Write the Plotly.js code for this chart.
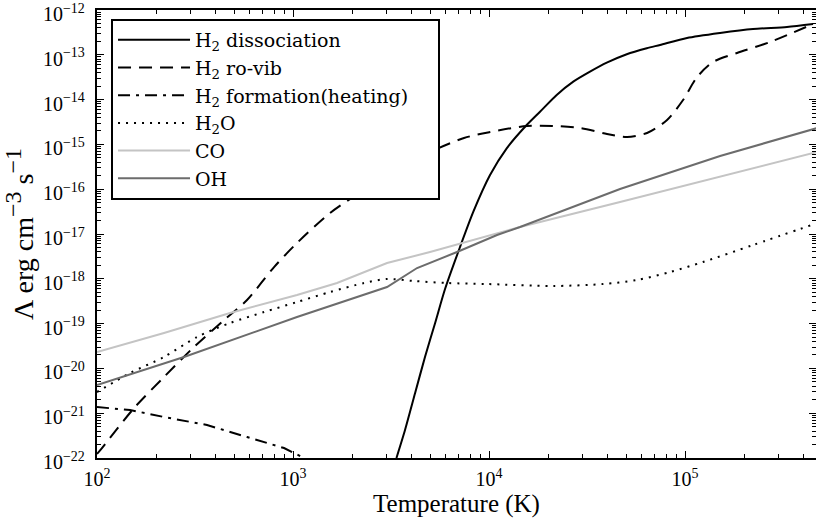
<!DOCTYPE html>
<html>
<head>
<meta charset="utf-8">
<script src="https://cdn.plot.ly/plotly-3.0.1.min.js"></script>
<style>html,body{margin:0;padding:0;background:#fff;}#chart{width:816px;height:519px;}</style>
</head>
<body>
<div id="chart"></div>
<script>
// Temperature (K) and cooling rate values
const dissocT = [3370, 3727, 4193, 4716, 5304, 5964, 7112, 8318, 10117, 12306, 15560, 18197, 22140, 26900, 32740, 39860, 50420, 63770, 74550, 102300, 150900, 222200, 331000, 449900];
const dissocL = [1e-22, 4.21e-22, 2.78e-21, 1.82e-20, 1.02e-19, 5.91e-19, 5.13e-18, 3.15e-17, 2.07e-16, 8.18e-16, 2.71e-15, 5.37e-15, 1.27e-14, 2.51e-14, 4.20e-14, 6.67e-14, 1.03e-13, 1.40e-13, 1.66e-13, 2.37e-13, 3.07e-13, 3.77e-13, 4.18e-13, 4.87e-13];

const rovibT = [100, 106, 154.5, 219.7, 312.6, 444.6, 582.6, 800.4, 1048, 1545, 2302, 3394, 5000, 7454, 10120, 15630, 21210, 29130, 39990, 50600, 64000, 80950, 97680, 115200, 139000, 184200, 271400, 449900];
const rovibL = [1.23e-22, 1.67e-22, 1.30e-21, 6.43e-21, 3.01e-20, 1.20e-19, 3.36e-19, 1.83e-18, 6.30e-18, 2.94e-17, 9.60e-17, 2.68e-16, 6.76e-16, 1.39e-15, 1.89e-15, 2.58e-15, 2.58e-15, 2.32e-15, 1.71e-15, 1.46e-15, 1.80e-15, 3.51e-15, 9.80e-15, 3.19e-14, 6.91e-14, 1.10e-13, 1.93e-13, 4.87e-13];

const formT = [100, 147.4, 219.7, 364, 582.6, 899.8, 1138];
const formL = [1.37e-21, 1.18e-21, 8.22e-22, 5.45e-22, 2.94e-22, 1.67e-22, 1.0e-22];

const h2oT = [100, 147.4, 219.7, 323.7, 477.2, 711.2, 1048, 1545, 2302, 3018, 4143, 6106, 9768, 21210, 38150, 56900, 83850, 123500, 222300, 471600];
const h2oL = [2.97e-21, 7.88e-21, 1.80e-20, 5.02e-20, 1.03e-19, 1.81e-19, 3.03e-19, 5.07e-19, 8.05e-19, 9.9e-19, 8.93e-19, 8.05e-19, 7.65e-19, 6.90e-19, 7.65e-19, 9.4e-19, 1.42e-18, 2.37e-18, 5.68e-18, 1.75e-17];

const coT = [100, 219.7, 477.2, 1048, 1677, 3018, 5000, 14395, 46600, 150900, 471600];
const coL = [2.32e-20, 6.17e-20, 1.73e-19, 4.35e-19, 8.05e-19, 2.25e-18, 3.96e-18, 1.43e-17, 5.18e-17, 1.87e-16, 6.76e-16];

const ohT = [100, 277.8, 1048, 3018, 4294, 6866, 10985, 14395, 46600, 150900, 471600];
const ohL = [4.26e-21, 1.80e-20, 1.40e-19, 6.56e-19, 1.74e-18, 3.96e-18, 9.5e-18, 1.43e-17, 1.01e-16, 5.51e-16, 2.32e-15];

const names = ['H<sub>2</sub> dissociation', 'H<sub>2</sub> ro-vib', 'H<sub>2</sub> formation(heating)\u00a0\u00a0\u00a0\u00a0', 'H<sub>2</sub>O', 'CO', 'OH'];

const traces = [
  {x: dissocT, y: dissocL, name: names[0], line: {color: '#000000', width: 2, shape: 'spline', smoothing: 0.7}},
  {x: rovibT, y: rovibL, name: names[1], line: {color: '#000000', width: 2, dash: '13px,8px', shape: 'spline', smoothing: 0.8}},
  {x: formT, y: formL, name: names[2], line: {color: '#000000', width: 2, dash: '12px,6px,3px,6px'}},
  {x: h2oT, y: h2oL, name: names[3], line: {color: '#000000', width: 2, dash: '2px,6px', shape: 'spline', smoothing: 0.8}},
  {x: coT, y: coL, name: names[4], line: {color: '#c4c4c4', width: 2}},
  {x: ohT, y: ohL, name: names[5], line: {color: '#6c6c6c', width: 2}}
].map(t => Object.assign({type: 'scatter', mode: 'lines'}, t));

const font = {family: '"Liberation Serif", "DejaVu Serif", serif', color: '#000'};

const axisCommon = {
  type: 'log',
  showgrid: false,
  zeroline: false,
  showline: true,
  linecolor: '#000',
  linewidth: 2,
  mirror: 'allticks',
  ticks: 'inside',
  ticklen: 7,
  tickwidth: 1,
  tickcolor: '#000',
  dtick: 1,
  exponentformat: 'power',
  ticklabeloverflow: 'allow',
  tickfont: Object.assign({size: 16}, font),
  minor: {ticks: 'inside', ticklen: 4, tickwidth: 1, tickcolor: '#000', dtick: 'D1', showgrid: false}
};

const layout = {
  width: 816, height: 519,
  margin: {l: 97, r: 0, t: 10, b: 61},
  paper_bgcolor: '#fff', plot_bgcolor: '#fff',
  font: font,
  showlegend: true,
  xaxis: Object.assign({}, axisCommon, {
    range: [2, 5.668],
    ticklabelstandoff: 3,
    title: {text: 'Temperature (K)', font: Object.assign({size: 25}, font), standoff: 4}
  }),
  yaxis: Object.assign({}, axisCommon, {
    range: [-22, -12],
    ticklabelstandoff: 7,
    ticklabelshift: 4,
    title: {text: 'Λ erg cm<sup><span style="font-size:24px">−3</span></sup> s<sup><span style="font-size:24px">−1</span></sup>', font: Object.assign({size: 28}, font), standoff: 4}
  }),
  legend: {
    x: 0.0195, y: 0.98, xanchor: 'left', yanchor: 'top',
    bgcolor: '#fff', bordercolor: '#000', borderwidth: 2,
    font: {family: '"DejaVu Serif", serif', size: 19, color: '#000'},
    tracegroupgap: 0, itemwidth: 72
  }
};

Plotly.newPlot('chart', traces, layout, {staticPlot: true, displayModeBar: false});
</script>
</body>
</html>
